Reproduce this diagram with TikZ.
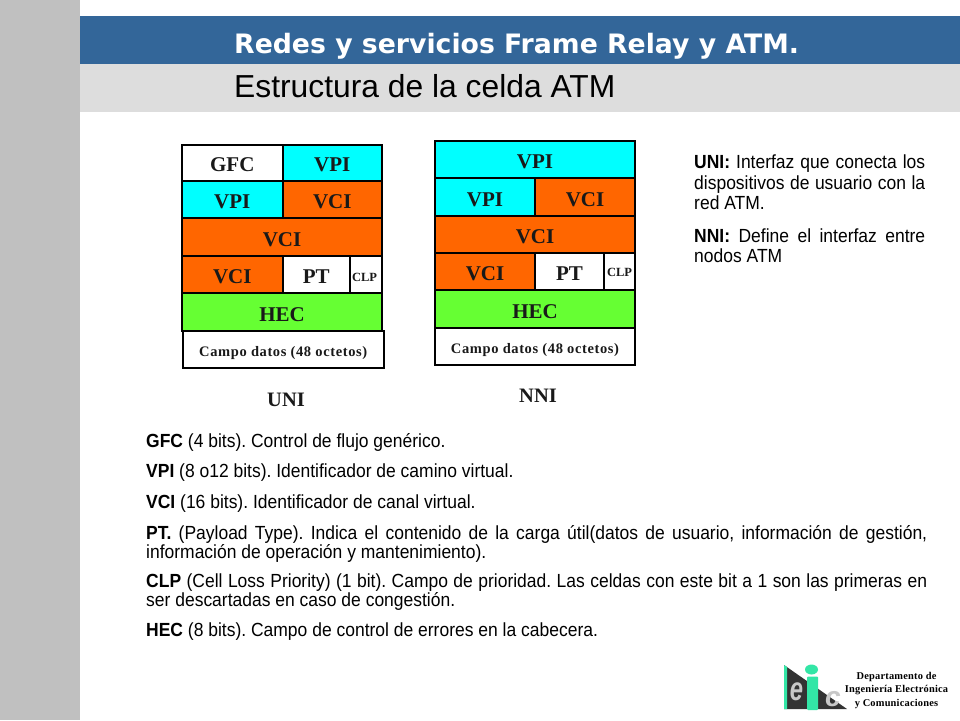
\documentclass[tikz,border=0pt]{standalone}
\usepackage{fontspec}
\setmainfont{Liberation Sans}
\newfontfamily\serifb{Liberation Serif}[BoldFont={Liberation Serif Bold}]
\newfontfamily\serifw{Liberation Serif}[BoldFont={Liberation Serif Bold},LetterSpace=4.2]
\newfontfamily\serifd{Liberation Serif}[BoldFont={Liberation Serif Bold},LetterSpace=2]
\newfontfamily\titlef{DejaVu Sans}
\newfontfamily\condf{Liberation Sans}[FakeStretch=0.92]
\definecolor{bandblue}{HTML}{336699}
\definecolor{bandgrey}{HTML}{DDDDDD}
\definecolor{sidegrey}{HTML}{C0C0C0}
\definecolor{vpicol}{HTML}{00FFFF}
\definecolor{vcicol}{HTML}{FF6600}
\definecolor{heccol}{HTML}{66FF33}
\definecolor{logodark}{HTML}{333333}
\definecolor{logogreen}{HTML}{33E6A6}
\definecolor{logogrey}{HTML}{C8C8C8}
\newcommand{\cellbox}[7]{%
  \pgfmathsetmacro{\cbw}{#4-#2}\pgfmathsetmacro{\cbh}{#5-#3}%
  \pgfmathsetmacro{\cbx}{(#2+#4)/2}\pgfmathsetmacro{\cby}{(#3+#5)/2}%
  \node[cellnode,fill=#6,minimum width=\cbw pt,minimum height=\cbh pt] (#1) at (\cbx,\cby) {#7};}
\newcommand{\cbig}[1]{\raisebox{-9pt}[0pt][0pt]{\fontsize{21}{24}\selectfont #1}}
\newcommand{\csmall}[2]{\raisebox{#2}[0pt][0pt]{\fontsize{12.5}{13}\selectfont #1}}
\newcommand{\cmid}[1]{\raisebox{-6.5pt}[0pt][0pt]{\serifw\bfseries\fontsize{14.5}{16}\selectfont #1}}
\newcommand{\bodyfs}{\condf\fontsize{19}{19}\selectfont\frenchspacing}
\begin{document}
\begin{tikzpicture}[x=1pt,y=-1pt,
  cellnode/.style={draw=black,line width=2pt,inner sep=0pt,outer sep=0pt,font=\serifb\bfseries,text=black!90},
  sidetext/.style={anchor=north west,inner sep=0pt,align=justify,font=\bodyfs},
  caption/.style={font=\serifb\bfseries\fontsize{20.5}{22}\selectfont,text=black!90,inner sep=0pt}]
\useasboundingbox (0,0) rectangle (960,720);
\fill[white] (0,0) rectangle (960,720);
\fill[sidegrey] (0,0) rectangle (80,720);
\fill[bandblue] (80,16) rectangle (960,64);
\fill[bandgrey] (80,64) rectangle (960,112);
\node[anchor=base west,inner sep=0pt,text=white,font=\titlef\bfseries\fontsize{26.7}{30}\selectfont] (title) at (234,53) {Redes y servicios Frame Relay y ATM.};
\node[anchor=base west,inner sep=0pt,font=\fontsize{31.8}{34}\selectfont] (subtitle) at (234,97) {Estructura de la celda ATM};
% UNI
\cellbox{ua}{182}{144.5}{282.5}{181}{white}{\cbig{GFC}}
\cellbox{ub}{282.5}{144.5}{382}{181}{vpicol}{\cbig{VPI}}
\cellbox{uc}{182}{181}{282.5}{218}{vpicol}{\cbig{VPI}}
\cellbox{ud}{282.5}{181}{382}{218}{vcicol}{\cbig{VCI}}
\cellbox{ue}{182}{218}{382}{256}{vcicol}{\cbig{VCI}}
\cellbox{uf}{182}{256}{282.5}{293}{vcicol}{\cbig{VCI}}
\cellbox{ug}{282.5}{256}{350}{293}{white}{\cbig{PT}}
\cellbox{uh}{350}{256}{382}{293}{white}{\csmall{CLP\hspace{3pt}}{-6.5pt}}
\cellbox{ui}{182}{293}{382}{331}{heccol}{\cbig{HEC}}
\cellbox{uj}{183}{331}{383.5}{368}{white}{\cmid{Campo datos (48 octetos)}}
\node[caption] (uni) at (286,400) {UNI};
% NNI
\cellbox{na}{435}{141}{635}{178}{vpicol}{\cbig{VPI}}
\cellbox{nb}{435}{178}{535}{216}{vpicol}{\cbig{VPI}}
\cellbox{nc}{535}{178}{635}{216}{vcicol}{\cbig{VCI}}
\cellbox{nd}{435}{216}{635}{253}{vcicol}{\cbig{VCI}}
\cellbox{ne}{435}{253}{535}{290}{vcicol}{\cbig{VCI}}
\cellbox{nf}{535}{253}{604}{290}{white}{\cbig{PT}}
\cellbox{ng}{604}{253}{635}{290}{white}{\csmall{CLP}{-4.5pt}}
\cellbox{nh}{435}{290}{635}{328}{heccol}{\cbig{HEC}}
\cellbox{ni}{435}{328}{635}{365}{white}{\cmid{Campo datos (48 octetos)}}
\node[caption] (nni) at (538,396) {NNI};
% right text
\node[sidetext,text width=231pt,font=\condf\fontsize{19}{20.3}\selectfont\frenchspacing] (t1) at (694,155) {\textbf{UNI:} Interfaz que conecta los\linebreak dispositivos de usuario con la\linebreak red ATM.};
\node[sidetext,text width=231pt,font=\condf\fontsize{19}{20.3}\selectfont\frenchspacing] (t2) at (694,228.5) {\textbf{NNI:} Define el interfaz entre\linebreak nodos ATM};
% bottom text
\node[sidetext,text width=781pt] (b1) at (146,433.5) {\textbf{GFC} (4 bits). Control de flujo genérico.};
\node[sidetext,text width=781pt] (b2) at (146,464) {\textbf{VPI} (8 o12 bits). Identificador de camino virtual.};
\node[sidetext,text width=781pt] (b3) at (146,495) {\textbf{VCI} (16 bits). Identificador de canal virtual.};
\node[sidetext,text width=781pt] (b4) at (146,525) {\textbf{PT.} (Payload Type). Indica el contenido de la carga útil(datos de usuario, información de gestión,\linebreak información de operación y mantenimiento).};
\node[sidetext,text width=781pt] (b5) at (146,574) {\textbf{CLP} (Cell Loss Priority) (1 bit). Campo de prioridad. Las celdas con este bit a 1 son las primeras en\linebreak ser descartadas en caso de congestión.};
\node[sidetext,text width=781pt] (b6) at (146,623) {\textbf{HEC} (8 bits). Campo de control de errores en la cabecera.};
% logo
\fill[logodark] (784,665) -- (847,709) -- (784,709) -- cycle;
\fill[logogreen] (784,665) -- (787,667) -- (787,709) -- (784,709) -- cycle;
\node[inner sep=0pt,text=logogrey,font=\bfseries\itshape\fontsize{33}{33}\selectfont] (loge) at (796.5,692) {\scalebox{0.72}[1]{e}};
\node[inner sep=0pt,text=logogrey,font=\bfseries\itshape\fontsize{28}{28}\selectfont] (logoc) at (833,699) {c};
\fill[logogreen] (811.5,669.5) ellipse (6.5 and 5);
\fill[logogreen,rounded corners=1pt] (807,676.5) rectangle (818,710);
\node[inner sep=0pt,align=center,font=\serifd\bfseries\fontsize{10.4}{13.3}\selectfont] (dept) at (896.5,690.5) {Departamento de\\Ingeniería Electrónica\\y Comunicaciones};
\end{tikzpicture}
\end{document}
